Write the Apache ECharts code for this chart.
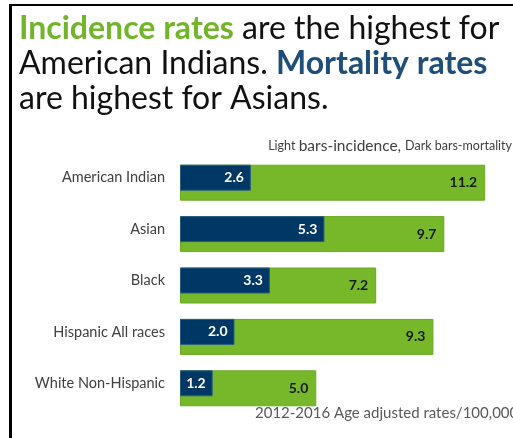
<!DOCTYPE html>
<html><head><meta charset="utf-8">
<script src="https://cdn.jsdelivr.net/npm/echarts@6/dist/echarts.min.js"></script>
<style>html,body{margin:0;padding:0;background:#fff}#c{width:513px;height:438px}</style>
</head><body><div id="c"></div>
<script>
const categories = ['American Indian', 'Asian', 'Black', 'Hispanic All races', 'White Non-Hispanic'];
const incidence = [11.2, 9.7, 7.2, 9.3, 5.0];
const mortality = [2.6, 5.3, 3.3, 2.0, 1.2];

const chart = echarts.init(document.getElementById('c'), null, {renderer: 'canvas'});
const F = 'Lato, "Open Sans", sans-serif';
chart.setOption({
  animation: false,
  backgroundColor: '#fff',
  grid: {left: 180, top: 152, width: 327, height: 257, containLabel: false},
  xAxis: {type: 'value', min: 0, max: 12, show: false},
  yAxis: {
    type: 'category', data: categories, inverse: true,
    axisLine: {show: false}, axisTick: {show: false},
    axisLabel: {margin: 15, fontFamily: F, fontSize: 14.5, color: '#404040'}
  },
  series: [
    {
      type: 'bar', data: incidence, barWidth: 36, barGap: '-100%',
      itemStyle: {color: '#76b82a', borderColor: '#6aa825', borderWidth: 1},
      label: {show: true, position: 'insideRight', distance: 8, formatter: p => p.value.toFixed(1),
        fontFamily: F, fontWeight: 'bold', fontSize: 14, color: '#1a1a1a'}
    },
    {
      type: 'bar', data: mortality, barWidth: 26,
      itemStyle: {color: '#003865', borderColor: '#2a5d80', borderWidth: 1},
      label: {show: true, position: 'insideRight', distance: 7, formatter: p => p.value.toFixed(1),
        fontFamily: F, fontWeight: 'bold', fontSize: 14, color: '#fff'}
    }
  ],
  graphic: [
    {type: 'rect', shape: {x: 9, y: 4, width: 3, height: 434}, style: {fill: '#000'}},
    {type: 'rect', shape: {x: 9, y: 4, width: 504, height: 2}, style: {fill: '#000'}},
    {type: 'text', left: 19, top: 11, style: {
      text: '{g|Incidence rates}{n| are the highest for}\n{n|American Indians. }{b|Mortality rates}\n{n|are highest for Asians.}',
      fontFamily: F, lineHeight: 35,
      rich: {
        g: {fontFamily: F, fontSize: 32, fontWeight: 'bold', fill: '#72b42a', lineHeight: 35},
        b: {fontFamily: F, fontSize: 32, fontWeight: 'bold', fill: '#1f4e79', lineHeight: 35},
        n: {fontFamily: F, fontSize: 32, fill: '#111', lineHeight: 35}
      }
    }},
    {type: 'text', right: 1, top: 138, style: {
      text: '{s|Light }{m|bars-incidence, }{s|Dark bars-mortality}',
      rich: {
        s: {fontFamily: F, fontSize: 12.5, fill: '#404040'},
        m: {fontFamily: F, fontSize: 15.5, fill: '#404040'}
      }
    }},
    {type: 'text', left: 255, top: 406, style: {
      text: '2012-2016 Age adjusted rates/100,000', fontFamily: F, fontSize: 15, fill: '#595959'
    }}
  ]
});
</script></body></html>
